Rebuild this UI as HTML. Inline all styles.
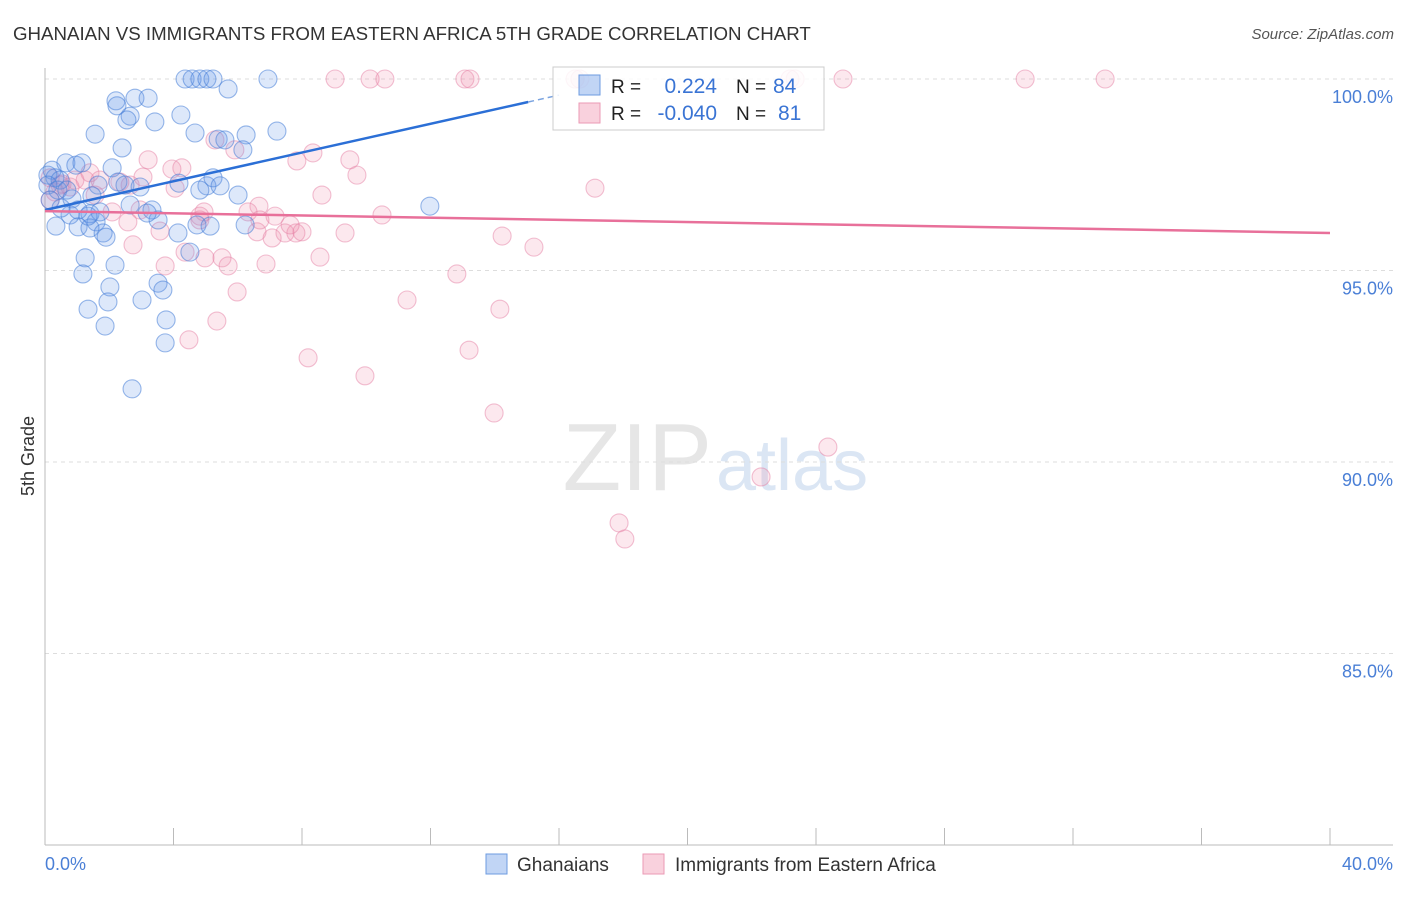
<!DOCTYPE html>
<html><head><meta charset="utf-8"><style>
body{margin:0;background:#fff;font-family:"Liberation Sans",sans-serif;}
svg text{font-family:"Liberation Sans",sans-serif;}
</style></head><body>
<svg id="chart" width="1406" height="892" viewBox="0 0 1406 892" xmlns="http://www.w3.org/2000/svg">
<text x="13" y="40" font-size="18.7" fill="#333">GHANAIAN VS IMMIGRANTS FROM EASTERN AFRICA 5TH GRADE CORRELATION CHART</text>
<text x="1394" y="39" font-size="15" fill="#555" text-anchor="end" font-style="italic">Source: ZipAtlas.com</text>
<text x="712" y="490" font-size="96" fill="#e6e6e6" text-anchor="end" font-family="Liberation Serif">ZIP</text>
<text x="716" y="490" font-size="72" fill="#dbe6f4">atlas</text>
<g id="grid"></g>
<g id="axes"></g>
<g id="points"></g>
<g id="lines"></g>
<text transform="translate(34,456) rotate(-90)" font-size="18" fill="#333" text-anchor="middle">5th Grade</text>
<text x="45" y="870" font-size="18" fill="#4a7fd6">0.0%</text>
<text x="1393" y="870" font-size="18" fill="#4a7fd6" text-anchor="end">40.0%</text>
<g>
<rect x="553" y="67" width="271" height="63" fill="rgba(255,255,255,0.85)" stroke="#ccc"/>
<rect x="579" y="75" width="21" height="20" fill="rgba(100,150,230,0.4)" stroke="#6d9be0"/>
<rect x="579" y="103" width="21" height="20" fill="rgba(240,140,170,0.4)" stroke="#eb9ab5"/>
<text x="611" y="93" font-size="19" fill="#222">R =</text>
<text x="717" y="93" font-size="21" fill="#3a74d4" text-anchor="end">0.224</text>
<text x="736" y="93" font-size="19" fill="#222">N =</text>
<text x="773" y="93" font-size="21" fill="#3a74d4">84</text>
<text x="611" y="120" font-size="19" fill="#222">R =</text>
<text x="717" y="120" font-size="21" fill="#3a74d4" text-anchor="end">-0.040</text>
<text x="736" y="120" font-size="19" fill="#222">N =</text>
<text x="778" y="120" font-size="21" fill="#3a74d4">81</text>
</g>
<g>
<rect x="486" y="854" width="21" height="20" fill="rgba(100,150,230,0.4)" stroke="#6d9be0"/>
<text x="517" y="871" font-size="19" fill="#333">Ghanaians</text>
</g>
<g>
<rect x="643" y="854" width="21" height="20" fill="rgba(240,140,170,0.4)" stroke="#eb9ab5"/>
<text x="675" y="871" font-size="19" fill="#333">Immigrants from Eastern Africa</text>
</g>
</svg>
<script>
const blueX=[4.36,4.58,4.82,5.04,5.23,6.94,5.70,2.21,2.80,3.21,2.24,2.65,2.55,3.42,4.23,1.56,4.67,5.39,6.26,7.22,2.40,6.16,0.22,0.65,0.96,1.15,0.31,0.09,0.47,2.09,2.27,2.49,2.96,4.17,5.04,5.23,6.01,1.65,0.09,0.40,0.68,0.84,1.46,2.65,3.33,3.52,4.14,4.73,5.14,6.23,11.98,0.78,1.40,1.59,1.03,1.40,1.81,1.90,0.34,1.71,1.25,2.18,3.52,3.67,2.02,3.02,1.96,1.18,1.34,1.87,3.77,3.74,2.71,4.51,0.16,0.50,1.03,1.34,3.18,4.82,5.45,5.60];
const blueY=[100,100,100,100,100,100,99.74,99.43,99.50,99.50,99.30,99.03,98.93,98.88,99.06,98.56,98.59,98.43,98.54,98.64,98.20,98.15,97.62,97.81,97.75,97.81,97.42,97.49,97.36,97.68,97.31,97.23,97.18,97.28,97.21,97.42,96.97,97.23,97.23,97.10,97.10,96.87,96.95,96.71,96.58,96.32,95.98,96.19,96.16,96.19,96.68,96.45,96.48,96.27,96.14,96.11,95.98,95.87,96.16,96.53,95.33,95.14,94.67,94.49,94.57,94.23,94.18,94.91,93.99,93.55,93.71,93.11,91.91,95.48,96.84,96.63,96.58,96.42,96.50,97.10,97.21,98.41];
const pinkX=[9.03,10.12,10.58,13.07,13.23,16.50,16.65,23.19,23.35,24.84,30.51,33.00,5.29,5.91,8.34,7.84,9.49,3.21,3.95,4.26,9.71,1.40,3.05,1.71,2.33,2.65,0.93,0.53,0.16,0.31,0.78,1.56,4.05,17.12,8.62,6.66,6.32,7.16,4.95,4.82,10.49,2.96,2.09,2.58,3.58,6.60,7.07,7.47,7.81,8.00,9.34,14.23,15.22,2.74,4.36,4.98,5.51,5.70,6.88,8.56,3.74,5.98,11.27,12.82,14.16,5.35,4.48,8.19,13.20,9.96,13.98,24.37,22.29,17.87,18.05,0.16,0.47,1.25,4.82,6.69,7.63];
const pinkY=[100,100,100,100,100,100,100,100,100,100,100,100,98.41,98.15,98.07,97.86,97.89,97.89,97.65,97.68,97.49,97.55,97.44,97.36,97.31,97.23,97.36,97.26,97.42,97.05,97.18,96.97,97.15,97.15,96.97,96.68,96.53,96.42,96.53,96.32,96.45,96.58,96.53,96.27,96.03,96.01,95.85,95.98,95.98,96.01,95.98,95.90,95.61,95.67,95.48,95.33,95.33,95.12,95.17,95.35,95.12,94.44,94.23,94.91,93.99,93.68,93.19,92.72,92.92,92.25,91.28,90.39,89.61,88.41,87.99,96.84,97.23,97.36,96.42,96.32,96.19];
const yTicks=[100,95,90,85];
const yTickLabels=["100.0%","95.0%","90.0%","85.0%"];
const xTicks=[0,4,8,12,16,20,24,28,32,36,40];
const blueTrend=[0,96.58,15.04,99.40,16.0,99.58];
const pinkTrend=[0,96.55,40,95.98];

const NS="http://www.w3.org/2000/svg";
const xs=v=>45+v*(1330-45)/40;
const ys=v=>79+(100-v)*38.3;
function mk(tag,attrs,parent){const e=document.createElementNS(NS,tag);for(const k in attrs)e.setAttribute(k,attrs[k]);parent.appendChild(e);return e;}
const grid=document.getElementById('grid'),axes=document.getElementById('axes'),pts=document.getElementById('points'),lines=document.getElementById('lines');
yTicks.forEach((t,i)=>{
  const l=mk('line',{x1:45,x2:1393,y1:ys(t),y2:ys(t),stroke:'#ddd','stroke-dasharray':'4,4'},grid);
  
  
  const tx=mk('text',{x:1393,y:ys(t)+24,'font-size':18,fill:'#4a7fd6','text-anchor':'end'},grid);
  tx.textContent=yTickLabels[i];
  
  
});
const ya=mk('line',{x1:45,x2:45,y1:68,y2:845,stroke:'#bbb'},axes);


const xa=mk('line',{x1:45,x2:1393,y1:845,y2:845,stroke:'#bbb'},axes);


xTicks.forEach(t=>{
  const l=mk('line',{x1:xs(t),x2:xs(t),y1:828,y2:845,stroke:'#bbb'},axes);
  
  
});
pinkX.forEach((x,i)=>{
  const c=mk('circle',{cx:xs(x),cy:ys(pinkY[i]),r:9,fill:'rgba(240,140,170,0.2)',stroke:'rgba(230,130,165,0.5)','stroke-width':1.1},pts);
  
  
});
blueX.forEach((x,i)=>{
  const c=mk('circle',{cx:xs(x),cy:ys(blueY[i]),r:9,fill:'rgba(100,150,230,0.22)',stroke:'rgba(70,125,215,0.55)','stroke-width':1.1},pts);
  
  
});
const bl=mk('line',{x1:xs(blueTrend[0]),y1:ys(blueTrend[1]),x2:xs(blueTrend[2]),y2:ys(blueTrend[3]),stroke:'#2b6fd6','stroke-width':2.5},lines);


const bd=mk('line',{x1:xs(blueTrend[2]),y1:ys(blueTrend[3]),x2:xs(blueTrend[4]),y2:ys(blueTrend[5]),stroke:'#7aa3e0','stroke-width':1.5,'stroke-dasharray':'6,4'},lines);


const pl=mk('line',{x1:xs(pinkTrend[0]),y1:ys(pinkTrend[1]),x2:xs(pinkTrend[2]),y2:ys(pinkTrend[3]),stroke:'#e8709a','stroke-width':2.5},lines);


</script>
</body></html>
